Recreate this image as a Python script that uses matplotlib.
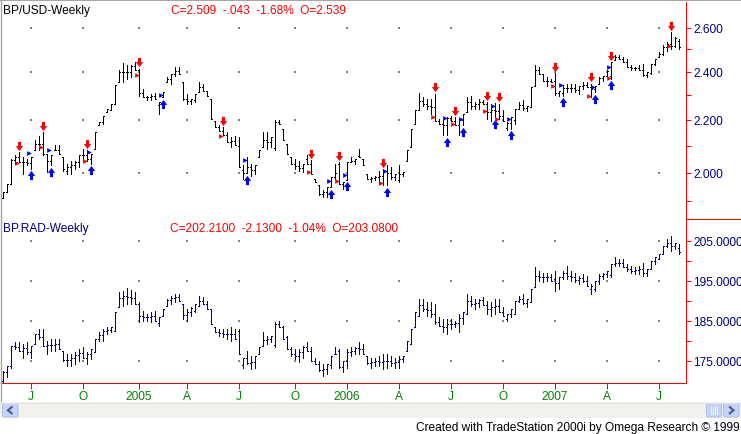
import numpy as np
import pandas as pd
import matplotlib
matplotlib.use("Agg")
import matplotlib.pyplot as plt
import matplotlib.transforms as mtransforms
from matplotlib.path import Path
from matplotlib.patches import Rectangle, FancyBboxPatch, Polygon
from matplotlib.ticker import FixedLocator, NullFormatter

plt.rcParams["font.family"] = ["Liberation Sans", "DejaVu Sans"]

# ---- BP/USD weekly ----
usd_open = [1.91, 1.93, 1.96, 2.045, 2.056, 2.038, 2.038, 2.035, 2.082, 2.108,
            2.107, 2.069, 2.044, 2.082, 2.085, 2.057, 2.007, 2.02, 2.029, 2.04,
            2.063, 2.063, 2.05, 2.088, 2.178, 2.191, 2.231, 2.238, 2.265, 2.355,
            2.397, 2.40, 2.40, 2.424, 2.41, 2.31, 2.292, 2.293, 2.297, 2.26,
            2.292, 2.355, 2.37, 2.391, 2.405, 2.355, 2.285, 2.275, 2.28, 2.313,
            2.334, 2.32, 2.285, 2.197, 2.171, 2.158, 2.139, 2.113, 2.118, 2.10,
            2.01, 2.0, 2.02, 2.01, 2.057, 2.094, 2.12, 2.113, 2.09, 2.19,
            2.165, 2.107, 2.057, 2.032, 2.025, 2.016, 2.05, 2.032, 1.978, 1.954,
            1.925, 1.93, 1.948, 1.983, 2.03, 1.96, 1.975, 2.038, 2.041, 2.06,
            2.05, 1.995, 1.978, 1.98, 1.983, 1.987, 2.005, 2.0, 1.983, 1.975,
            1.995, 2.044, 2.094, 2.184, 2.238, 2.275, 2.265, 2.255, 2.25, 2.197,
            2.184, 2.178, 2.207, 2.197, 2.178, 2.2, 2.231, 2.272, 2.258, 2.265,
            2.273, 2.265, 2.23, 2.24, 2.234, 2.217, 2.17, 2.188, 2.2, 2.245,
            2.26, 2.246, 2.251, 2.341, 2.407, 2.391, 2.362, 2.362, 2.36, 2.31,
            2.31, 2.33, 2.33, 2.33, 2.323, 2.341, 2.345, 2.334, 2.327, 2.348,
            2.373, 2.384, 2.38, 2.45, 2.465, 2.457, 2.442, 2.42, 2.416, 2.417,
            2.41, 2.388, 2.395, 2.435, 2.464, 2.48, 2.51, 2.525, 2.515, 2.539]
usd_high = [1.93, 1.96, 2.05, 2.063, 2.075, 2.057, 2.05, 2.057, 2.12, 2.135,
            2.151, 2.069, 2.063, 2.101, 2.101, 2.057, 2.032, 2.044, 2.044, 2.063,
            2.088, 2.082, 2.069, 2.151, 2.191, 2.217, 2.245, 2.265, 2.345, 2.406,
            2.438, 2.428, 2.428, 2.442, 2.413, 2.327, 2.299, 2.306, 2.309, 2.272,
            2.313, 2.377, 2.391, 2.423, 2.42, 2.355, 2.306, 2.285, 2.306, 2.355,
            2.348, 2.32, 2.285, 2.197, 2.178, 2.171, 2.151, 2.132, 2.135, 2.132,
            2.026, 2.057, 2.032, 2.026, 2.082, 2.151, 2.151, 2.132, 2.2, 2.2,
            2.165, 2.107, 2.057, 2.05, 2.044, 2.032, 2.063, 2.045, 1.978, 1.954,
            1.937, 1.948, 1.983, 2.032, 2.038, 1.966, 2.038, 2.057, 2.05, 2.088,
            2.05, 1.995, 1.983, 1.989, 2.007, 2.013, 2.026, 2.02, 1.995, 2.026,
            2.001, 2.082, 2.165, 2.238, 2.309, 2.292, 2.285, 2.285, 2.306, 2.204,
            2.2, 2.211, 2.217, 2.211, 2.204, 2.224, 2.292, 2.299, 2.272, 2.285,
            2.281, 2.272, 2.265, 2.268, 2.265, 2.238, 2.191, 2.211, 2.245, 2.272,
            2.281, 2.258, 2.337, 2.428, 2.423, 2.391, 2.377, 2.369, 2.394, 2.32,
            2.345, 2.348, 2.348, 2.348, 2.341, 2.355, 2.355, 2.348, 2.341, 2.377,
            2.384, 2.406, 2.442, 2.472, 2.472, 2.464, 2.457, 2.428, 2.423, 2.428,
            2.435, 2.398, 2.435, 2.457, 2.487, 2.517, 2.532, 2.578, 2.555, 2.545]
usd_low = [1.91, 1.93, 1.96, 2.032, 2.038, 1.995, 2.026, 2.014, 2.082, 2.082,
           2.063, 2.001, 2.026, 2.082, 2.069, 2.007, 1.995, 1.995, 2.014, 2.02,
           2.044, 2.044, 2.032, 2.088, 2.178, 2.184, 2.231, 2.238, 2.265, 2.355,
           2.355, 2.369, 2.377, 2.406, 2.299, 2.292, 2.279, 2.281, 2.285, 2.224,
           2.292, 2.355, 2.348, 2.384, 2.391, 2.279, 2.265, 2.265, 2.272, 2.313,
           2.32, 2.299, 2.204, 2.171, 2.158, 2.139, 2.113, 2.094, 2.101, 2.02,
           1.978, 1.998, 1.989, 1.995, 2.057, 2.094, 2.088, 2.094, 2.082, 2.184,
           2.12, 2.069, 2.032, 2.014, 2.007, 2.001, 2.032, 1.995, 1.966, 1.919,
           1.913, 1.913, 1.948, 1.978, 1.96, 1.942, 1.975, 2.038, 2.032, 2.057,
           2.026, 1.978, 1.966, 1.972, 1.96, 1.954, 1.954, 1.978, 1.972, 1.966,
           1.989, 2.044, 2.094, 2.184, 2.238, 2.258, 2.245, 2.224, 2.197, 2.184,
           2.139, 2.139, 2.197, 2.178, 2.139, 2.178, 2.231, 2.245, 2.245, 2.245,
           2.265, 2.204, 2.197, 2.211, 2.204, 2.197, 2.161, 2.165, 2.184, 2.245,
           2.238, 2.235, 2.251, 2.341, 2.391, 2.362, 2.341, 2.355, 2.303, 2.299,
           2.299, 2.313, 2.313, 2.313, 2.306, 2.327, 2.334, 2.292, 2.313, 2.348,
           2.362, 2.384, 2.369, 2.45, 2.457, 2.442, 2.42, 2.409, 2.409, 2.406,
           2.384, 2.377, 2.391, 2.428, 2.464, 2.476, 2.494, 2.502, 2.509, 2.50]
usd_close = [1.93, 1.96, 2.045, 2.056, 2.038, 2.038, 2.035, 2.057, 2.108, 2.107,
             2.07, 2.044, 2.063, 2.085, 2.069, 2.013, 2.02, 2.029, 2.04, 2.063,
             2.063, 2.05, 2.069, 2.151, 2.191, 2.217, 2.245, 2.265, 2.345, 2.397,
             2.40, 2.40, 2.424, 2.41, 2.31, 2.292, 2.293, 2.297, 2.285, 2.272,
             2.313, 2.37, 2.391, 2.405, 2.391, 2.285, 2.275, 2.285, 2.306, 2.334,
             2.32, 2.299, 2.204, 2.171, 2.158, 2.139, 2.113, 2.118, 2.101, 2.02,
             2.0, 2.02, 2.01, 2.026, 2.082, 2.12, 2.113, 2.132, 2.19, 2.184,
             2.12, 2.069, 2.032, 2.025, 2.016, 2.032, 2.032, 1.995, 1.966, 1.925,
             1.93, 1.948, 1.983, 2.0, 1.96, 1.966, 2.038, 2.041, 2.05, 2.057,
             2.026, 1.978, 1.98, 1.983, 1.987, 2.005, 2.0, 1.983, 1.995, 1.995,
             2.001, 2.082, 2.165, 2.238, 2.275, 2.265, 2.255, 2.25, 2.197, 2.184,
             2.178, 2.207, 2.197, 2.178, 2.2, 2.224, 2.272, 2.258, 2.265, 2.273,
             2.265, 2.23, 2.24, 2.234, 2.217, 2.197, 2.188, 2.211, 2.245, 2.26,
             2.246, 2.258, 2.337, 2.407, 2.391, 2.362, 2.362, 2.355, 2.31, 2.32,
             2.33, 2.33, 2.33, 2.323, 2.341, 2.345, 2.334, 2.327, 2.341, 2.373,
             2.384, 2.405, 2.442, 2.465, 2.457, 2.442, 2.42, 2.416, 2.417, 2.41,
             2.388, 2.398, 2.435, 2.457, 2.48, 2.51, 2.525, 2.515, 2.552, 2.509]

# strategy signals on BP/USD (bar index, entry price)
sell_idx = [4, 10, 21, 34, 55, 77, 84, 95, 108, 113, 121, 124, 138, 147, 152, 167]
sell_px = [2.034, 2.094, 2.044, 2.387, 2.136, 2.001, 1.969, 1.962, 2.211, 2.184,
           2.235, 2.204, 2.338, 2.296, 2.374, 2.513]
buy_idx = [7, 12, 22, 40, 61, 82, 86, 96, 111, 115, 123, 127, 140, 148, 152]
buy_px = [2.071, 2.085, 2.076, 2.302, 2.047, 1.969, 1.990, 2.005, 2.208, 2.204,
          2.255, 2.203, 2.344, 2.337, 2.42]

# ---- BP.RAD weekly ----
rad_open = [170.0, 172.3, 173.7, 178.7, 178.5, 177.5, 178.1, 177.2, 179.2, 181.6,
            180.8, 178.7, 179.0, 179.0, 179.2, 177.5, 175.2, 175.2, 175.6, 176.5,
            177.0, 175.8, 176.6, 177.1, 180.4, 181.4, 182.4, 182.7, 182.5, 188.3,
            190.6, 191.1, 190.8, 190.6, 189.1, 186.2, 185.8, 185.8, 186.2, 184.5,
            186.2, 188.7, 190.1, 190.6, 190.8, 189.1, 186.4, 187.2, 187.5, 188.7,
            190.0, 189.1, 187.9, 183.3, 182.1, 181.8, 181.6, 181.6, 181.6, 182.5,
            174.0, 175.8, 174.5, 174.7, 176.7, 178.7, 180.2, 180.4, 179.0, 184.1,
            183.3, 181.0, 177.9, 176.6, 176.2, 177.2, 178.5, 177.5, 175.0, 174.2,
            172.7, 172.9, 174.0, 176.7, 177.5, 173.5, 175.0, 177.2, 177.5, 178.1,
            178.0, 176.2, 174.5, 174.7, 174.9, 174.8, 175.0, 174.9, 174.5, 174.7,
            175.4, 177.5, 179.2, 183.3, 186.2, 189.0, 187.9, 187.7, 186.6, 184.7,
            183.7, 183.5, 184.2, 184.2, 184.3, 185.6, 186.6, 190.0, 189.1, 189.3,
            190.1, 188.9, 187.9, 188.5, 188.7, 187.2, 185.5, 186.6, 186.6, 190.0,
            190.3, 189.3, 189.6, 193.3, 196.2, 195.8, 196.0, 195.8, 195.5, 194.3,
            195.8, 197.0, 196.2, 195.8, 195.1, 195.6, 195.0, 193.0, 193.0, 195.0,
            196.2, 196.6, 196.5, 199.1, 199.5, 199.3, 198.3, 197.8, 197.4, 197.6,
            197.8, 197.0, 197.9, 199.9, 200.4, 201.6, 203.7, 204.3, 203.7, 203.08]
rad_high = [172.5, 173.7, 178.7, 179.6, 179.6, 179.2, 179.6, 178.7, 181.6, 182.9,
            182.9, 180.0, 180.4, 180.4, 180.4, 177.5, 176.7, 176.7, 177.1, 177.9,
            178.3, 177.1, 177.9, 180.4, 182.1, 182.9, 183.3, 183.3, 187.1, 192.1,
            192.5, 193.1, 192.6, 192.1, 189.6, 187.5, 186.6, 187.1, 187.5, 185.8,
            187.9, 190.4, 191.2, 191.6, 191.6, 189.1, 187.9, 188.3, 189.1, 191.2,
            190.8, 190.0, 187.9, 183.3, 182.9, 182.9, 182.9, 183.3, 182.9, 182.9,
            175.8, 177.5, 176.2, 176.2, 178.3, 182.1, 181.2, 181.2, 184.6, 185.0,
            183.7, 181.2, 178.3, 177.9, 177.9, 178.7, 179.6, 178.3, 175.8, 175.0,
            174.2, 174.2, 176.2, 178.3, 177.9, 175.0, 177.9, 178.3, 178.3, 179.6,
            179.2, 176.2, 175.8, 175.8, 176.2, 176.7, 176.7, 176.2, 175.8, 176.2,
            176.2, 180.0, 182.9, 187.1, 190.4, 190.4, 189.6, 189.6, 189.1, 185.8,
            185.4, 185.4, 185.4, 185.0, 186.6, 187.1, 191.6, 191.2, 190.4, 190.4,
            191.0, 190.0, 189.6, 190.4, 190.4, 188.3, 186.6, 187.9, 190.0, 191.2,
            191.6, 190.4, 192.9, 198.3, 197.5, 197.0, 197.0, 196.6, 197.5, 195.8,
            197.5, 198.7, 197.5, 197.0, 196.2, 196.6, 196.2, 194.1, 195.0, 196.6,
            197.0, 197.5, 199.1, 200.8, 200.4, 200.4, 199.1, 198.7, 198.3, 198.7,
            199.5, 197.9, 200.0, 200.8, 201.6, 203.7, 205.4, 206.2, 204.5, 204.1]
rad_low = [169.6, 170.9, 173.3, 177.9, 177.5, 175.8, 176.7, 175.8, 179.2, 180.4,
           178.7, 176.7, 177.5, 177.5, 177.9, 175.0, 173.7, 173.7, 174.2, 175.0,
           175.8, 174.2, 175.4, 177.1, 180.0, 180.0, 181.6, 182.1, 182.5, 188.3,
           188.7, 189.1, 189.1, 189.1, 184.6, 185.0, 185.0, 184.6, 185.0, 183.7,
           186.2, 188.7, 189.1, 189.6, 190.0, 185.4, 185.0, 186.2, 187.1, 188.7,
           189.1, 187.9, 184.1, 182.1, 181.2, 180.8, 180.4, 180.0, 180.4, 176.7,
           173.2, 174.2, 172.9, 173.3, 176.7, 178.7, 179.2, 179.6, 178.3, 183.3,
           180.4, 177.9, 176.2, 175.4, 174.6, 175.8, 177.5, 175.0, 174.2, 172.5,
           171.3, 171.7, 173.3, 176.7, 173.3, 172.1, 173.3, 176.2, 176.7, 176.7,
           176.7, 174.2, 173.3, 173.7, 173.7, 172.9, 173.3, 173.7, 173.3, 173.3,
           174.6, 177.5, 179.2, 183.3, 186.2, 187.5, 186.2, 185.8, 184.1, 183.7,
           182.1, 181.6, 182.9, 183.3, 182.1, 184.1, 186.6, 188.7, 187.9, 188.3,
           188.9, 186.6, 186.2, 186.6, 187.1, 186.2, 185.0, 185.8, 186.6, 189.6,
           189.1, 188.3, 189.6, 193.3, 195.0, 194.6, 195.0, 195.0, 192.5, 192.9,
           195.4, 195.4, 195.0, 194.6, 194.1, 194.6, 193.7, 191.6, 192.5, 194.1,
           195.4, 195.8, 195.8, 198.7, 198.7, 198.3, 197.5, 197.0, 196.6, 196.6,
           196.2, 196.2, 197.9, 199.1, 200.4, 201.6, 203.3, 202.5, 202.9, 201.6]
rad_close = [172.3, 173.7, 178.7, 178.5, 177.5, 178.1, 177.2, 178.7, 181.6, 180.8,
             178.7, 179.0, 179.0, 179.2, 177.9, 175.2, 175.2, 175.6, 176.5, 177.0,
             175.8, 176.6, 177.9, 180.4, 181.4, 182.4, 182.7, 183.3, 187.1, 190.6,
             191.1, 190.8, 190.6, 189.1, 186.2, 185.8, 185.8, 186.2, 185.0, 185.8,
             187.9, 190.1, 190.6, 190.8, 190.0, 186.4, 187.2, 188.1, 189.1, 190.0,
             189.1, 187.9, 184.1, 182.1, 181.8, 181.6, 181.6, 181.6, 180.4, 176.7,
             175.8, 174.5, 174.7, 176.2, 178.3, 180.2, 180.4, 181.2, 184.1, 183.3,
             180.4, 177.9, 176.6, 176.2, 177.2, 178.5, 177.5, 175.0, 174.2, 172.7,
             172.9, 174.2, 176.2, 176.7, 173.5, 175.0, 177.2, 177.5, 178.1, 178.0,
             176.7, 174.5, 174.7, 174.9, 174.8, 175.0, 174.9, 174.5, 174.7, 175.4,
             176.2, 180.0, 182.9, 187.1, 189.0, 187.9, 187.7, 186.6, 184.7, 183.7,
             183.5, 184.2, 184.2, 184.3, 185.6, 187.1, 190.0, 189.1, 189.3, 190.1,
             188.9, 187.9, 188.5, 188.7, 187.2, 186.2, 186.6, 187.9, 190.0, 190.3,
             189.3, 190.4, 192.9, 196.2, 195.8, 196.0, 195.8, 195.0, 194.3, 195.8,
             197.0, 196.2, 195.8, 195.1, 195.6, 195.0, 193.7, 193.7, 195.0, 196.2,
             196.6, 197.4, 199.1, 199.5, 199.3, 198.3, 197.8, 197.4, 197.6, 197.8,
             197.0, 197.9, 199.9, 200.8, 201.6, 203.7, 204.3, 203.7, 204.34, 202.21]

usd_major = [2.0, 2.2, 2.4, 2.6]
usd_minor = [1.9, 2.1, 2.3, 2.5]
rad_major = [175, 185, 195, 205]
rad_minor = [180, 190, 200]

dates = pd.date_range("2004-05-14", periods=len(usd_high), freq="W-FRI")
q_pos, q_lab = [], []
for i in range(1, len(dates)):
    m = dates[i].month
    if m != dates[i - 1].month and m in (1, 4, 7, 10):
        q_pos.append(i)
        q_lab.append(str(dates[i].year) if m == 1 else {4: "A", 7: "J", 10: "O"}[m])

RED = "#FF0000"
NAVY = "#000080"
GREEN = "#008000"
FS = 8.6
PX = 0.72  # one pixel in points at 100 dpi

W, H = 741, 435
fig = plt.figure(figsize=(W / 100, H / 100), dpi=100)


def px_axes(x0, y0, x1, y1):
    return fig.add_axes([x0 / W, 1 - y1 / H, (x1 - x0) / W, (y1 - y0) / H])


bg = px_axes(0, 0, W, H)
bg.set_xlim(0, W)
bg.set_ylim(H, 0)
bg.axis("off")

# window frame and separator
bg.plot([0, W], [1, 1], color="#A7A6A0", lw=1.5)
bg.plot([0.5, 0.5], [0, 402], color="#A7A6A0", lw=1.0)
bg.plot([686, W], [220, 220], color=RED, lw=PX)

# scrollbar
bg.add_patch(Rectangle((0, 403), W, 16, facecolor="#F2F1EB", edgecolor="none"))
bg.plot([0, W], [403.5, 403.5], color="#E3E2DA", lw=PX)
for x0 in (2, 723):
    bg.add_patch(FancyBboxPatch((x0 + 0.5, 404.5), 15.5, 13.5, boxstyle="round,pad=0,rounding_size=2",
                                facecolor="#C3D4FC", edgecolor="#A9BFEF", lw=PX))
bg.add_patch(FancyBboxPatch((706.5, 404.5), 15, 13.5, boxstyle="round,pad=0,rounding_size=2",
                            facecolor="#C3D4FC", edgecolor="#A9BFEF", lw=PX))
for gx in (711, 713, 715, 717):
    bg.plot([gx, gx], [408, 415], color="#EEF3FF", lw=PX)
bg.add_patch(Polygon([(12.5, 407.5), (8, 411.3), (12.5, 415)], closed=False, fill=False,
                     edgecolor="#4D6185", lw=1.6))
bg.add_patch(Polygon([(729, 407.5), (733.5, 411.3), (729, 415)], closed=False, fill=False,
                     edgecolor="#4D6185", lw=1.6))

bg.text(W - 1, 428.5, "Created with TradeStation 2000i by Omega Research \u00a9 1999",
        ha="right", va="center", fontsize=FS, color="black")

# panel headings
bg.text(3, 11, "BP/USD-Weekly", ha="left", va="center", fontsize=FS, color="black")
bg.text(171, 11, "C=2.509  -.043  -1.68%  O=2.539", ha="left", va="center",
        fontsize=FS, color=RED)
bg.text(3, 229, "BP.RAD-Weekly", ha="left", va="center", fontsize=FS, color=NAVY)
bg.text(170, 229, "C=202.2100  -2.1300  -1.04%  O=203.0800", ha="left", va="center",
        fontsize=FS, color=RED)

ax1 = px_axes(2, 3, 686, 220)
ax2 = px_axes(2, 220, 686, 384)
for ax in (ax1, ax2):
    ax.patch.set_visible(False)
    for s in ("top", "left", "bottom"):
        ax.spines[s].set_visible(False)
    ax.spines["right"].set_color(RED)
    ax.spines["right"].set_linewidth(PX)
    ax.set_xlim(-0.25, 170.75)
    ax.yaxis.tick_right()
    ax.tick_params(axis="y", which="both", direction="out", length=3.6, width=PX,
                   color=RED, labelcolor=NAVY, labelsize=FS, pad=1.5)

ax2.spines["bottom"].set_visible(True)
ax2.spines["bottom"].set_color(RED)
ax2.spines["bottom"].set_linewidth(PX)


def draw_bars(ax, o, h, l, c, color):
    x = np.arange(len(h))
    ax.vlines(x, l, h, color=color, lw=PX, antialiased=False)
    ax.hlines(o, x - 0.25, x, color=color, lw=PX, antialiased=False)
    ax.hlines(c, x, x + 0.25, color=color, lw=PX, antialiased=False)


# top panel: log price scale
ax1.set_yscale("log")
ax1.set_ylim(1.839, 2.723)
draw_bars(ax1, usd_open, usd_high, usd_low, usd_close, "black")
ax1.set_yticks(usd_major)
ax1.set_yticklabels([f"{v:.3f}" for v in usd_major])
ax1.yaxis.set_minor_locator(FixedLocator(usd_minor))
ax1.yaxis.set_minor_formatter(NullFormatter())
ax1.set_xticks([])

# bottom panel
ax2.set_ylim(169.44, 210.37)
draw_bars(ax2, rad_open, rad_high, rad_low, rad_close, NAVY)
ax2.set_yticks(rad_major)
ax2.set_yticklabels([f"{v:.4f}" for v in rad_major])
ax2.yaxis.set_minor_locator(FixedLocator(rad_minor))
ax2.set_xticks(q_pos)
ax2.set_xticklabels(q_lab)
ax2.tick_params(axis="x", direction="out", length=4.3, width=PX, color=RED,
                labelcolor=GREEN, labelsize=FS, pad=0.8)

# grid dots at quarter / major price intersections
for ax, levels in ((ax1, usd_major), (ax2, rad_major)):
    gx, gy = np.meshgrid(q_pos, levels)
    ax.scatter(gx.ravel(), gy.ravel(), s=0.6, marker="s", color="#808080",
               linewidths=0, zorder=1)

# signal arrows
down_arrow = Path([(-0.33, 1), (0.33, 1), (0.33, 0.1), (0.8, 0.1), (0, -1),
                   (-0.8, 0.1), (-0.33, 0.1), (-0.33, 1)], closed=True)
up_arrow = Path([(-0.33, -1), (0.33, -1), (0.33, -0.1), (0.8, -0.1), (0, 1),
                 (-0.8, -0.1), (-0.33, -0.1), (-0.33, -1)], closed=True)
above = mtransforms.offset_copy(ax1.transData, fig=fig, x=0, y=6.5 * PX, units="points")
below = mtransforms.offset_copy(ax1.transData, fig=fig, x=0, y=-6.5 * PX, units="points")
hi = np.array(usd_high)
lo = np.array(usd_low)
ax1.plot(sell_idx, hi[sell_idx], ls="none", marker=down_arrow, ms=6.6, mew=0,
         color=RED, transform=above, clip_on=False, zorder=4)
ax1.plot(buy_idx, lo[buy_idx], ls="none", marker=up_arrow, ms=6.6, mew=0,
         color="#0000FF", transform=below, clip_on=False, zorder=4)
ax1.plot(np.array(sell_idx) - 0.55, sell_px, ls="none", marker=">", ms=3.4, mew=0,
         color=RED, zorder=4)
ax1.plot(np.array(buy_idx) - 0.55, buy_px, ls="none", marker=">", ms=3.4, mew=0,
         color="#0000FF", zorder=4)

fig.savefig("out.png", dpi=100)
